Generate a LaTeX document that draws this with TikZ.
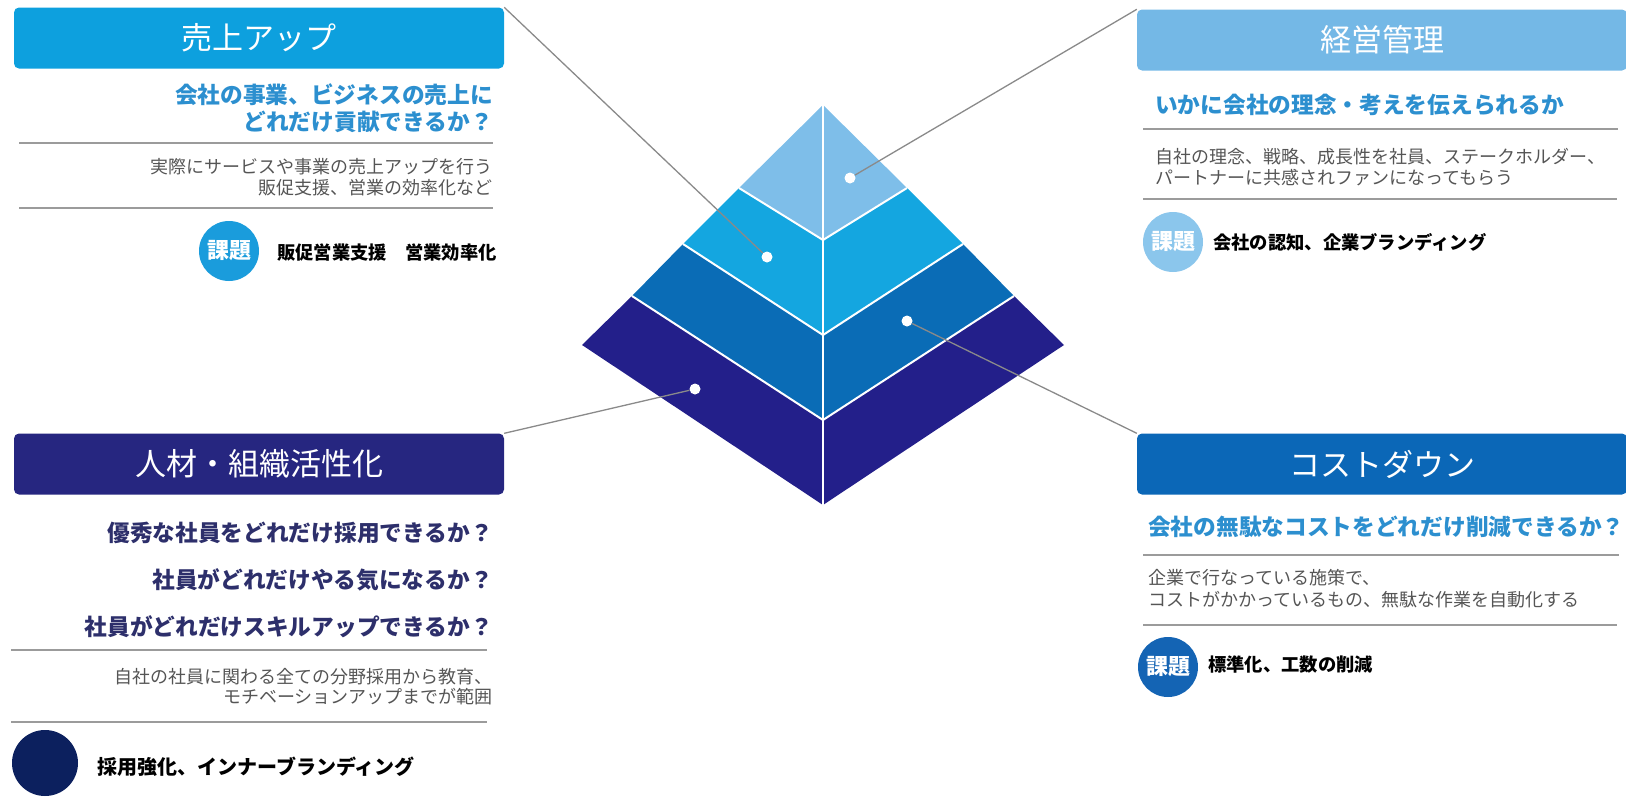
\documentclass[tikz,border=0pt]{standalone}
\usepackage{fontspec}
\setmainfont{Noto Sans CJK JP}

\definecolor{salesc}{HTML}{0DA0DE}
\definecolor{mgmtc}{HTML}{74B8E6}
\definecolor{hrc}{HTML}{262680}
\definecolor{costc}{HTML}{0B67B7}
\definecolor{tierA}{HTML}{7EBEE9}
\definecolor{tierB}{HTML}{14A6E0}
\definecolor{tierC}{HTML}{0A6CB6}
\definecolor{tierD}{HTML}{231F8A}
\definecolor{qblue}{HTML}{2C8FCF}
\definecolor{hrq}{HTML}{2D2F6B}
\definecolor{bodygray}{HTML}{555555}
\definecolor{rulegray}{HTML}{9B9B9B}
\definecolor{linkgray}{HTML}{8A8A8A}
\definecolor{salescirc}{HTML}{1A9CDC}
\definecolor{mgmtcirc}{HTML}{8BC6EC}
\definecolor{hrcirc}{HTML}{0C205E}
\definecolor{costcirc}{HTML}{1464B4}

\begin{document}
\begin{tikzpicture}[x=1pt, y=-1pt,
	titlebox/.style={rounded corners=5pt, minimum width=490pt, minimum height=61pt, inner sep=0pt, text=white, font=\fontsize{31}{31}\selectfont},
	question/.style={inner sep=0pt, font=\bfseries\fontsize{22.7}{27}\selectfont},
	bodytext/.style={inner sep=0pt, text=bodygray, font=\fontsize{18}{21}\selectfont},
	issue/.style={inner sep=0pt, font=\bfseries\fontsize{18.3}{18}\selectfont},
	issuecirc/.style={circle, minimum size=60pt, inner sep=0pt, text=white, font=\bfseries\fontsize{22}{22}\selectfont},
	rule/.style={rulegray, line width=1.5pt},
	link/.style={linkgray, line width=1.3pt},
	dot/.style={circle, fill=white, inner sep=0pt, minimum size=11pt}]
	\useasboundingbox (0,0) rectangle (1626,796);

	\coordinate (T) at (823,105);
	\coordinate (L1) at (739,188);
	\coordinate (M1) at (823,240);
	\coordinate (R1) at (907,188);
	\coordinate (L2) at (683,244);
	\coordinate (M2) at (823,335);
	\coordinate (R2) at (963,244);
	\coordinate (L3) at (632,296);
	\coordinate (M3) at (823,420);
	\coordinate (R3) at (1014,296);
	\coordinate (L4) at (582,345);
	\coordinate (M4) at (823,505);
	\coordinate (R4) at (1064,345);

	\fill[tierA] (T)--(R1)--(M1)--(L1)--cycle;
	\fill[tierB] (L1)--(M1)--(R1)--(R2)--(M2)--(L2)--cycle;
	\fill[tierC] (L2)--(M2)--(R2)--(R3)--(M3)--(L3)--cycle;
	\fill[tierD] (L3)--(M3)--(R3)--(R4)--(M4)--(L4)--cycle;
	\draw[white, line width=2pt] (L1)--(M1)--(R1);
	\draw[white, line width=2pt] (L2)--(M2)--(R2);
	\draw[white, line width=2pt] (L3)--(M3)--(R3);
	\draw[white, line width=2pt] (T)--(M4);

	\node[titlebox, fill=salesc] (salesbox) at (259,38) {売上アップ};
	\node[titlebox, fill=mgmtc] (mgmtbox) at (1382,40) {経営管理};
	\node[titlebox, fill=hrc] (hrbox) at (259,464) {人材・組織活性化};
	\node[titlebox, fill=costc] (costbox) at (1382,464) {コストダウン};

	\node[dot] (dotA) at (850,178) {};
	\node[dot] (dotB) at (767,257) {};
	\node[dot] (dotC) at (907,321) {};
	\node[dot] (dotD) at (695,389) {};
	\draw[link] (dotA) -- (mgmtbox.north west);
	\draw[link] (dotB) -- (salesbox.north east);
	\draw[link] (dotC) -- (costbox.north west);
	\draw[link] (dotD) -- (hrbox.north east);

	\node[question, text=qblue, anchor=east, align=right] (salesq) at (493,108.5) {会社の事業、ビジネスの売上に\\どれだけ貢献できるか？};
	\draw[rule] (19,143) -- (493,143);
	\node[bodytext, anchor=east, align=right] (salesb) at (493,177.5) {実際にサービスや事業の売上アップを行う\\販促支援、営業の効率化など};
	\draw[rule] (19,208) -- (493,208);
	\node[issuecirc, fill=salescirc] (salesi) at (229,251) {課題};
	\node[issue, anchor=west] (salest) at (277,253) {販促営業支援　営業効率化};

	\node[question, text=qblue, anchor=west] (mgmtq) at (1155,105) {いかに会社の理念・考えを伝えられるか};
	\draw[rule] (1143,129) -- (1618,129);
	\node[bodytext, anchor=west, align=left] (mgmtb) at (1155,167.5) {自社の理念、戦略、成長性を社員、ステークホルダー、\\パートナーに共感されファンになってもらう};
	\draw[rule] (1143,199) -- (1617,199);
	\node[issuecirc, fill=mgmtcirc] (mgmti) at (1173,242) {課題};
	\node[issue, anchor=west] (mgmtt) at (1213,242) {会社の認知、企業ブランディング};

	\node[question, text=hrq, anchor=east, align=right, font=\bfseries\fontsize{22.7}{47}\selectfont] (hrqs) at (493,580) {優秀な社員をどれだけ採用できるか？\\社員がどれだけやる気になるか？\\社員がどれだけスキルアップできるか？};
	\draw[rule] (11,650) -- (487,650);
	\node[bodytext, anchor=east, align=right, font=\fontsize{18}{20}\selectfont] (hrb) at (493,687) {自社の社員に関わる全ての分野採用から教育、\\モチベーションアップまでが範囲};
	\draw[rule] (11,722) -- (487,722);
	\node[issuecirc, fill=hrcirc, minimum size=66pt] (hri) at (45,763) {};
	\node[issue, anchor=west, font=\bfseries\fontsize{20}{20}\selectfont] (hrt) at (97,767) {採用強化、インナーブランディング};

	\node[question, text=qblue, anchor=west] (costq) at (1148,527) {会社の無駄なコストをどれだけ削減できるか？};
	\draw[rule] (1143,555) -- (1619,555);
	\node[bodytext, anchor=west, align=left, font=\fontsize{18}{22}\selectfont] (costb) at (1148,589) {企業で行なっている施策で、\\コストがかかっているもの、無駄な作業を自動化する};
	\draw[rule] (1143,625) -- (1617,625);
	\node[issuecirc, fill=costcirc] (costi) at (1168,667) {課題};
	\node[issue, anchor=west] (costt) at (1208,665) {標準化、工数の削減};
\end{tikzpicture}
\end{document}
